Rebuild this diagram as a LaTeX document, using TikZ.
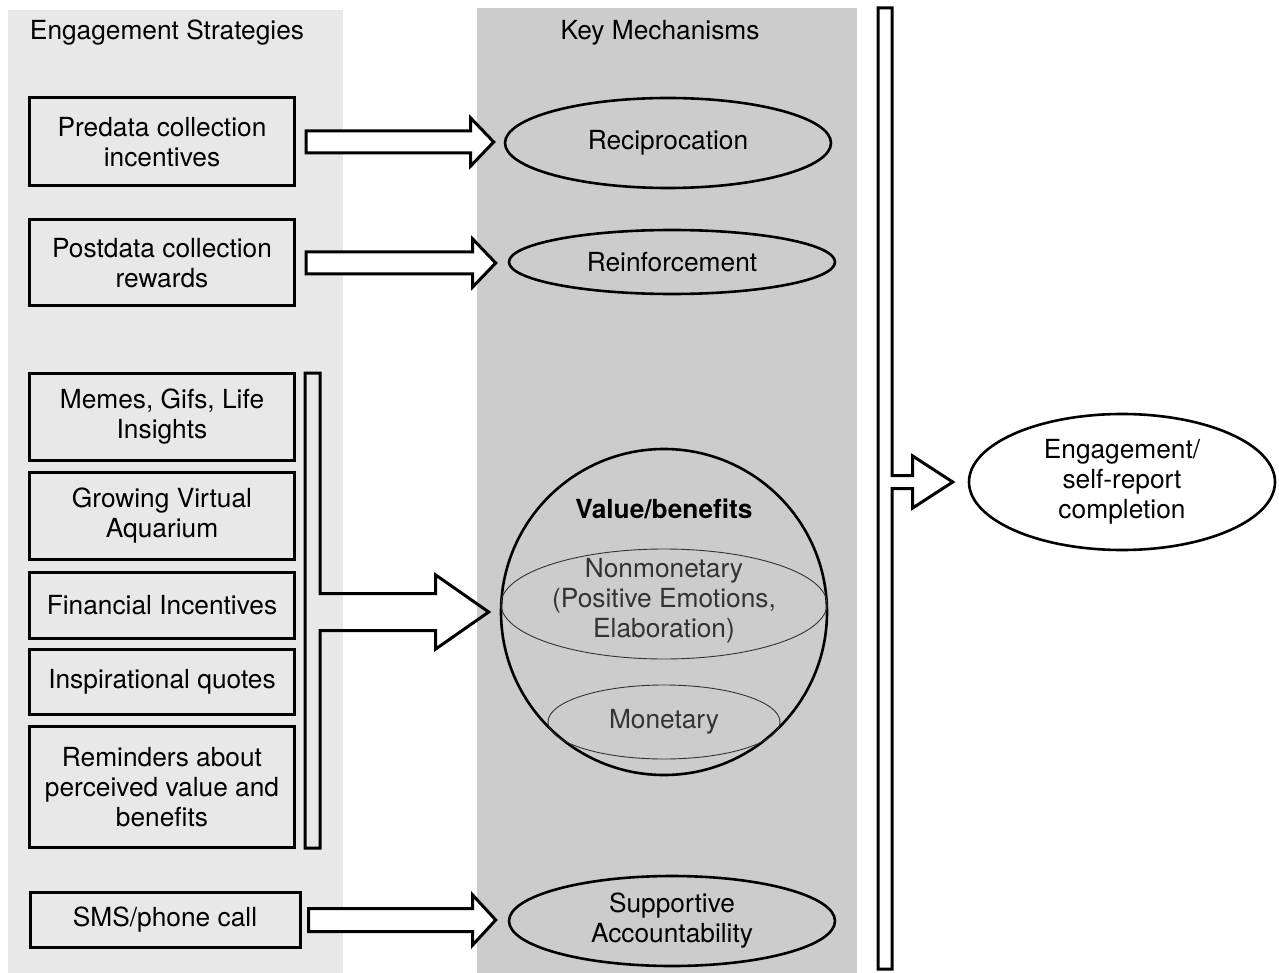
\documentclass[tikz,border=0pt]{standalone}
\usepackage{fontspec}
\setmainfont{TeX Gyre Heros}
\usetikzlibrary{calc,shapes.geometric}

\definecolor{stratgray}{HTML}{E8E8E8}
\definecolor{mechgray}{HTML}{CCCCCC}
\definecolor{thingray}{HTML}{333333}

% hollow block arrow: start, tip, shaft half height, head half height, head length
\newcommand{\fatarrow}[5]{%
  \draw[fat] let \p1=(#1), \p2=(#2) in
    (\x1,\y1+#3) -- (\x2-#5,\y1+#3) -- (\x2-#5,\y1+#4) -- (\x2,\y1)
    -- (\x2-#5,\y1-#4) -- (\x2-#5,\y1-#3) -- (\x1,\y1-#3) -- cycle;}

\begin{document}
\begin{tikzpicture}[
		x=1pt,y=-1pt,
		font=\fontsize{26.3}{30}\selectfont,
		strategy/.style={
			rectangle,
			draw,
			line width=3pt,
			fill=stratgray,
			minimum width=265,
			align=center,
			inner sep=0pt
		},
		mechanism/.style={
			ellipse,
			draw,
			line width=2.6pt,
			fill=mechgray,
			minimum width=326,
			align=center,
			inner sep=0pt
		},
		part/.style={
			ellipse,
			draw=thingray,
			line width=0.9pt,
			text=thingray,
			align=center,
			inner sep=0pt
		},
		fat/.style={
			draw,
			line width=3pt,
			fill=white,
			line join=miter
		}
		]
		\useasboundingbox (0,0) rectangle (1279,973);
		% columns
		\fill[stratgray] (8,10) rectangle (343,973);
		\fill[mechgray] (477,8) rectangle (857,973);
		\node (hstrat) at (167,33) {Engagement Strategies};
		\node (hmech) at (660,33) {Key Mechanisms};

		% strategies
		\node[strategy, minimum height=88] (pre) at (162,142) {Predata collection\\incentives};
		\node[strategy, minimum height=86] (post) at (162,263) {Postdata collection\\rewards};
		\node[strategy, minimum height=87] (memes) at (162,417) {Memes, Gifs, Life\\Insights};
		\node[strategy, minimum height=87] (aquarium) at (162,516) {Growing Virtual\\Aquarium};
		\node[strategy, minimum height=66] (financial) at (162,605) {Financial Incentives};
		\node[strategy, minimum height=65] (quotes) at (162,682) {Inspirational quotes};
		\node[strategy, minimum height=121] (reminders) at (162,787) {Reminders about\\perceived value and\\benefits};
		\node[strategy, minimum width=270, minimum height=55] (sms) at (165,920) {SMS/phone call};

		% mechanisms
		\node[mechanism, minimum height=90] (recip) at (668,143) {Reciprocation};
		\node[mechanism, minimum height=64] (reinf) at (672,262) {Reinforcement};
		\node[circle, draw, line width=2.6pt, fill=mechgray, minimum size=326, inner sep=0pt] (value) at (664,612) {};
		\node[font=\fontsize{26.3}{30}\selectfont\bfseries] (valuetitle) at (664,509) {Value/benefits};
		\node[part, minimum width=326, minimum height=110] (nonmon) at (664,604) {};
		\node[text=thingray, align=center] (nonmontext) at (664,601) {Nonmonetary\\(Positive Emotions,\\Elaboration)};
		\node[part, minimum width=232, minimum height=74] (mon) at (664,722) {Monetary};
		\node[mechanism, minimum height=90] (support) at (672,921) {Supportive\\Accountability};

		% outcome
		\node[ellipse, draw, line width=2.6pt, fill=white, minimum width=306, minimum height=136, inner sep=0pt, align=center] (eng) at (1122,482) {Engagement/\\self-report\\completion};

		% arrows
		\coordinate (pretip) at ([xshift=-10pt]recip.west);
		\coordinate (posttip) at ([xshift=-12pt]reinf.west);
		\coordinate (smstip) at ([xshift=-12pt]support.west |- sms.east);
		\fatarrow{[xshift=10pt]pre.east}{pretip}{11pt}{24pt}{23pt}
		\fatarrow{[xshift=10pt]post.east}{posttip}{11pt}{24pt}{23pt}
		\fatarrow{[xshift=7pt]sms.east}{smstip}{11.5pt}{25pt}{23pt}

		% bracket round the value strategies
		\coordinate (valtip) at ([xshift=-11pt]value.west);
		\draw[fat, fill=none] let \p1=(valtip) in
			(305,373) -- (320,373) -- (320pt,\y1+18.5pt) -- (\x1-53pt,\y1+18.5pt)
			-- (\x1-53pt,\y1+37pt) -- (\x1,\y1) -- (\x1-53pt,\y1-37pt)
			-- (\x1-53pt,\y1-18.5pt) -- (320pt,\y1-18.5pt) -- (320,848) -- (305,848) -- cycle;

		% bar into the outcome
		\coordinate (engtip) at ([xshift=-15pt]eng.west);
		\draw[fat] let \p1=(engtip) in
			(878,8) -- (892,8) -- (892pt,\y1+6.5pt) -- (\x1-40pt,\y1+6.5pt)
			-- (\x1-40pt,\y1+26pt) -- (\x1,\y1) -- (\x1-40pt,\y1-26pt)
			-- (\x1-40pt,\y1-6.5pt) -- (892pt,\y1-6.5pt) -- (892,969) -- (878,969) -- cycle;
		\end{tikzpicture}
\end{document}
